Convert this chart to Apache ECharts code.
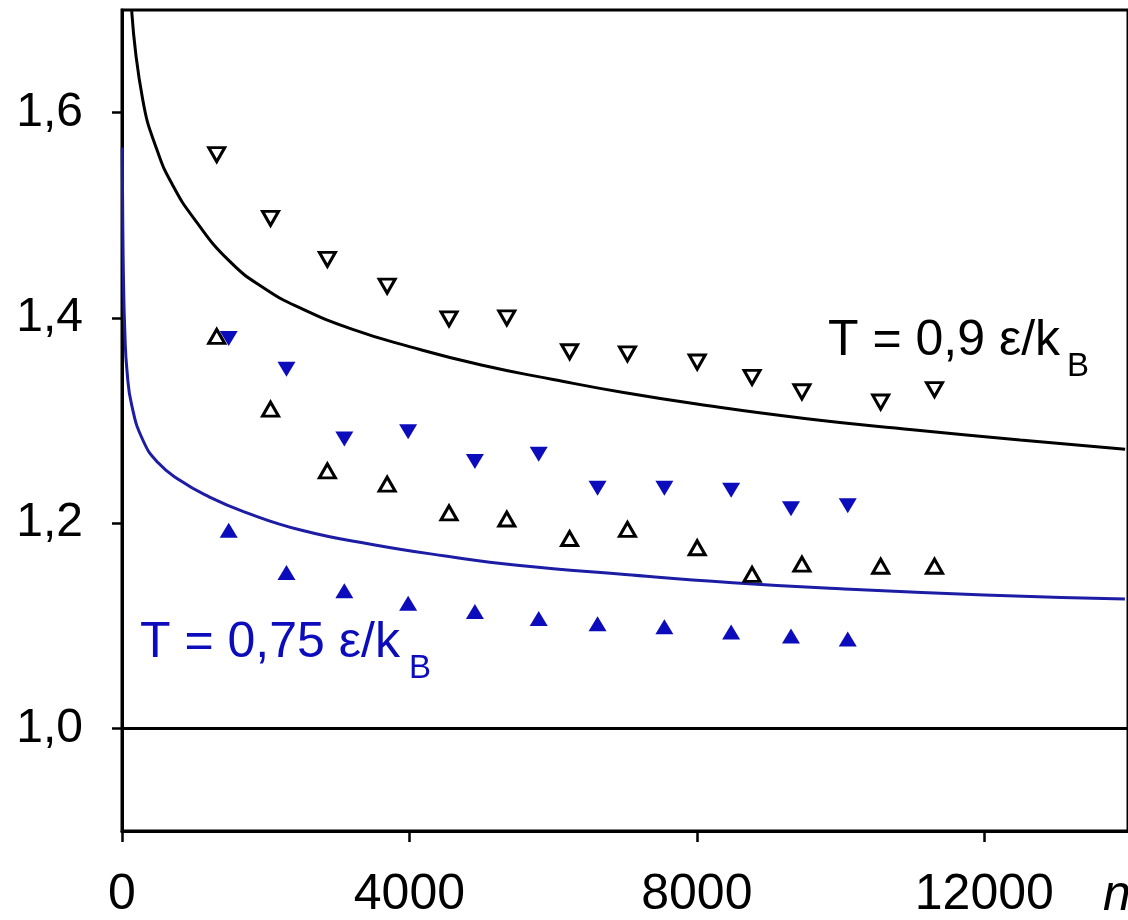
<!DOCTYPE html>
<html>
<head>
<meta charset="utf-8">
<script src="https://cdn.jsdelivr.net/npm/echarts@6/dist/echarts.min.js"></script>
<style>
html,body{margin:0;padding:0;background:#fff;}
#chart{width:1128px;height:920px;}
</style>
</head>
<body>
<div id="chart"></div>
<script>
// Tick labels
const xTicks = [0, 4000, 8000, 12000];
const yTicks = [1.0, 1.2, 1.4, 1.6];

// T = 0.9 markers (open) : same n for both
const nBlack = [1318, 2067, 2858, 3690, 4551, 5355, 6229, 7034, 8005, 8768, 9462, 10558, 11307];
const blackDown = [1.559, 1.497, 1.457, 1.431, 1.399, 1.400, 1.367, 1.365, 1.357, 1.342, 1.328, 1.318, 1.330];
const blackUp = [1.382, 1.311, 1.251, 1.238, 1.210, 1.204, 1.185, 1.194, 1.176, 1.150, 1.160, 1.158, 1.158];

// T = 0.75 markers (filled blue)
const nBlue = [1485, 2289, 3094, 3982, 4911, 5799, 6618, 7548, 8477, 9310, 10100];
const blueDown = [1.380, 1.350, 1.282, 1.289, 1.260, 1.267, 1.234, 1.234, 1.232, 1.214, 1.217];
const blueUp = [1.193, 1.152, 1.134, 1.122, 1.114, 1.107, 1.102, 1.099, 1.094, 1.090, 1.087];

// Curves
const curveBlackN = [135, 290, 490, 700, 1000, 1500, 2000, 2500, 3200, 4000, 5000, 6000, 7000, 8000, 9500, 11000, 12500, 13960];
const curveBlackV = [1.699, 1.612, 1.563, 1.530, 1.497, 1.455, 1.428, 1.409, 1.389, 1.372, 1.354, 1.340, 1.327, 1.316, 1.302, 1.291, 1.281, 1.272];
const curveBlueN = [3, 10, 20, 40, 70, 135, 290, 500, 800, 1200, 1700, 2500, 3500, 4500, 5500, 7000, 8500, 10000, 12000, 13957];
const curveBlueV = [1.566, 1.50, 1.44, 1.385, 1.348, 1.315, 1.281, 1.259, 1.242, 1.226, 1.211, 1.193, 1.179, 1.168, 1.159, 1.150, 1.142, 1.136, 1.130, 1.126];

const zip = (a, b) => a.map((v, i) => [v, b[i]]);

const BLUE = '#0c0cbc';
const BLUE_LINE = '#1c1ca4';
const FONT = 'Liberation Sans, Arial, sans-serif';

const chart = echarts.init(document.getElementById('chart'), null, {renderer: 'canvas'});
chart.setOption({
  animation: false,
  backgroundColor: '#fff',
  grid: {left: 122, top: 10, bottom: 88, right: -3, show: true, borderColor: '#000', borderWidth: 3},
  xAxis: {
    type: 'value', min: 0, max: 14000,
    axisLine: {lineStyle: {color: '#000', width: 3}},
    axisTick: {show: true, length: 11, lineStyle: {color: '#000', width: 2.5}, customValues: xTicks},
    axisLabel: {customValues: xTicks, color: '#000', fontSize: 50, fontFamily: FONT, margin: 39,
      formatter: v => String(v)},
    splitLine: {show: false}
  },
  yAxis: {
    type: 'value', min: 0.9, max: 1.7,
    axisLine: {show: true, lineStyle: {color: '#000', width: 3}},
    axisTick: {show: true, length: 10, lineStyle: {color: '#000', width: 2.5}, customValues: yTicks},
    axisLabel: {customValues: yTicks, color: '#000', fontSize: 48, fontFamily: FONT, margin: 39,
      formatter: v => v.toFixed(1).replace('.', ',')},
    splitLine: {show: false}
  },
  series: [
    {
      type: 'line', data: zip(curveBlackN, curveBlackV), showSymbol: false, smooth: 0.5,
      lineStyle: {color: '#000', width: 3}, z: 3,
      markLine: {silent: true, symbol: 'none', label: {show: false},
        lineStyle: {color: '#000', width: 3, type: 'solid', opacity: 1}, data: [{yAxis: 1}]}
    },
    {
      type: 'line', data: zip(curveBlueN, curveBlueV), showSymbol: false, smooth: 0.5,
      lineStyle: {color: BLUE_LINE, width: 3}, z: 3
    },
    {
      type: 'scatter', data: zip(nBlack, blackDown), symbol: 'triangle', symbolRotate: 180, symbolSize: [16, 14],
      itemStyle: {color: '#fff', borderColor: '#000', borderWidth: 3, opacity: 1}, z: 4
    },
    {
      type: 'scatter', data: zip(nBlack, blackUp), symbol: 'triangle', symbolSize: [16, 14],
      itemStyle: {color: '#fff', borderColor: '#000', borderWidth: 3, opacity: 1}, z: 4
    },
    {
      type: 'scatter', data: zip(nBlue, blueDown), symbol: 'triangle', symbolRotate: 180, symbolSize: [18, 15],
      itemStyle: {color: BLUE, opacity: 1}, z: 5
    },
    {
      type: 'scatter', data: zip(nBlue, blueUp), symbol: 'triangle', symbolSize: [18, 15],
      itemStyle: {color: BLUE, opacity: 1}, z: 5
    }
  ],
  graphic: [
    {type: 'text', left: 828, top: 316, z: 10, style: {text: 'T = 0,9 \u03b5/k', font: '50px ' + FONT, fill: '#000'}},
    {type: 'text', left: 1067, top: 350, z: 10, style: {text: 'B', font: '33px ' + FONT, fill: '#000'}},
    {type: 'text', left: 140, top: 618, z: 10, style: {text: 'T = 0,75 \u03b5/k', font: '50px ' + FONT, fill: BLUE}},
    {type: 'text', left: 409, top: 652, z: 10, style: {text: 'B', font: '33px ' + FONT, fill: BLUE}},
    {type: 'text', left: 1103, top: 871, z: 10, style: {text: 'n', font: 'italic 50px ' + FONT, fill: '#000'}}
  ]
});
</script>
</body>
</html>
